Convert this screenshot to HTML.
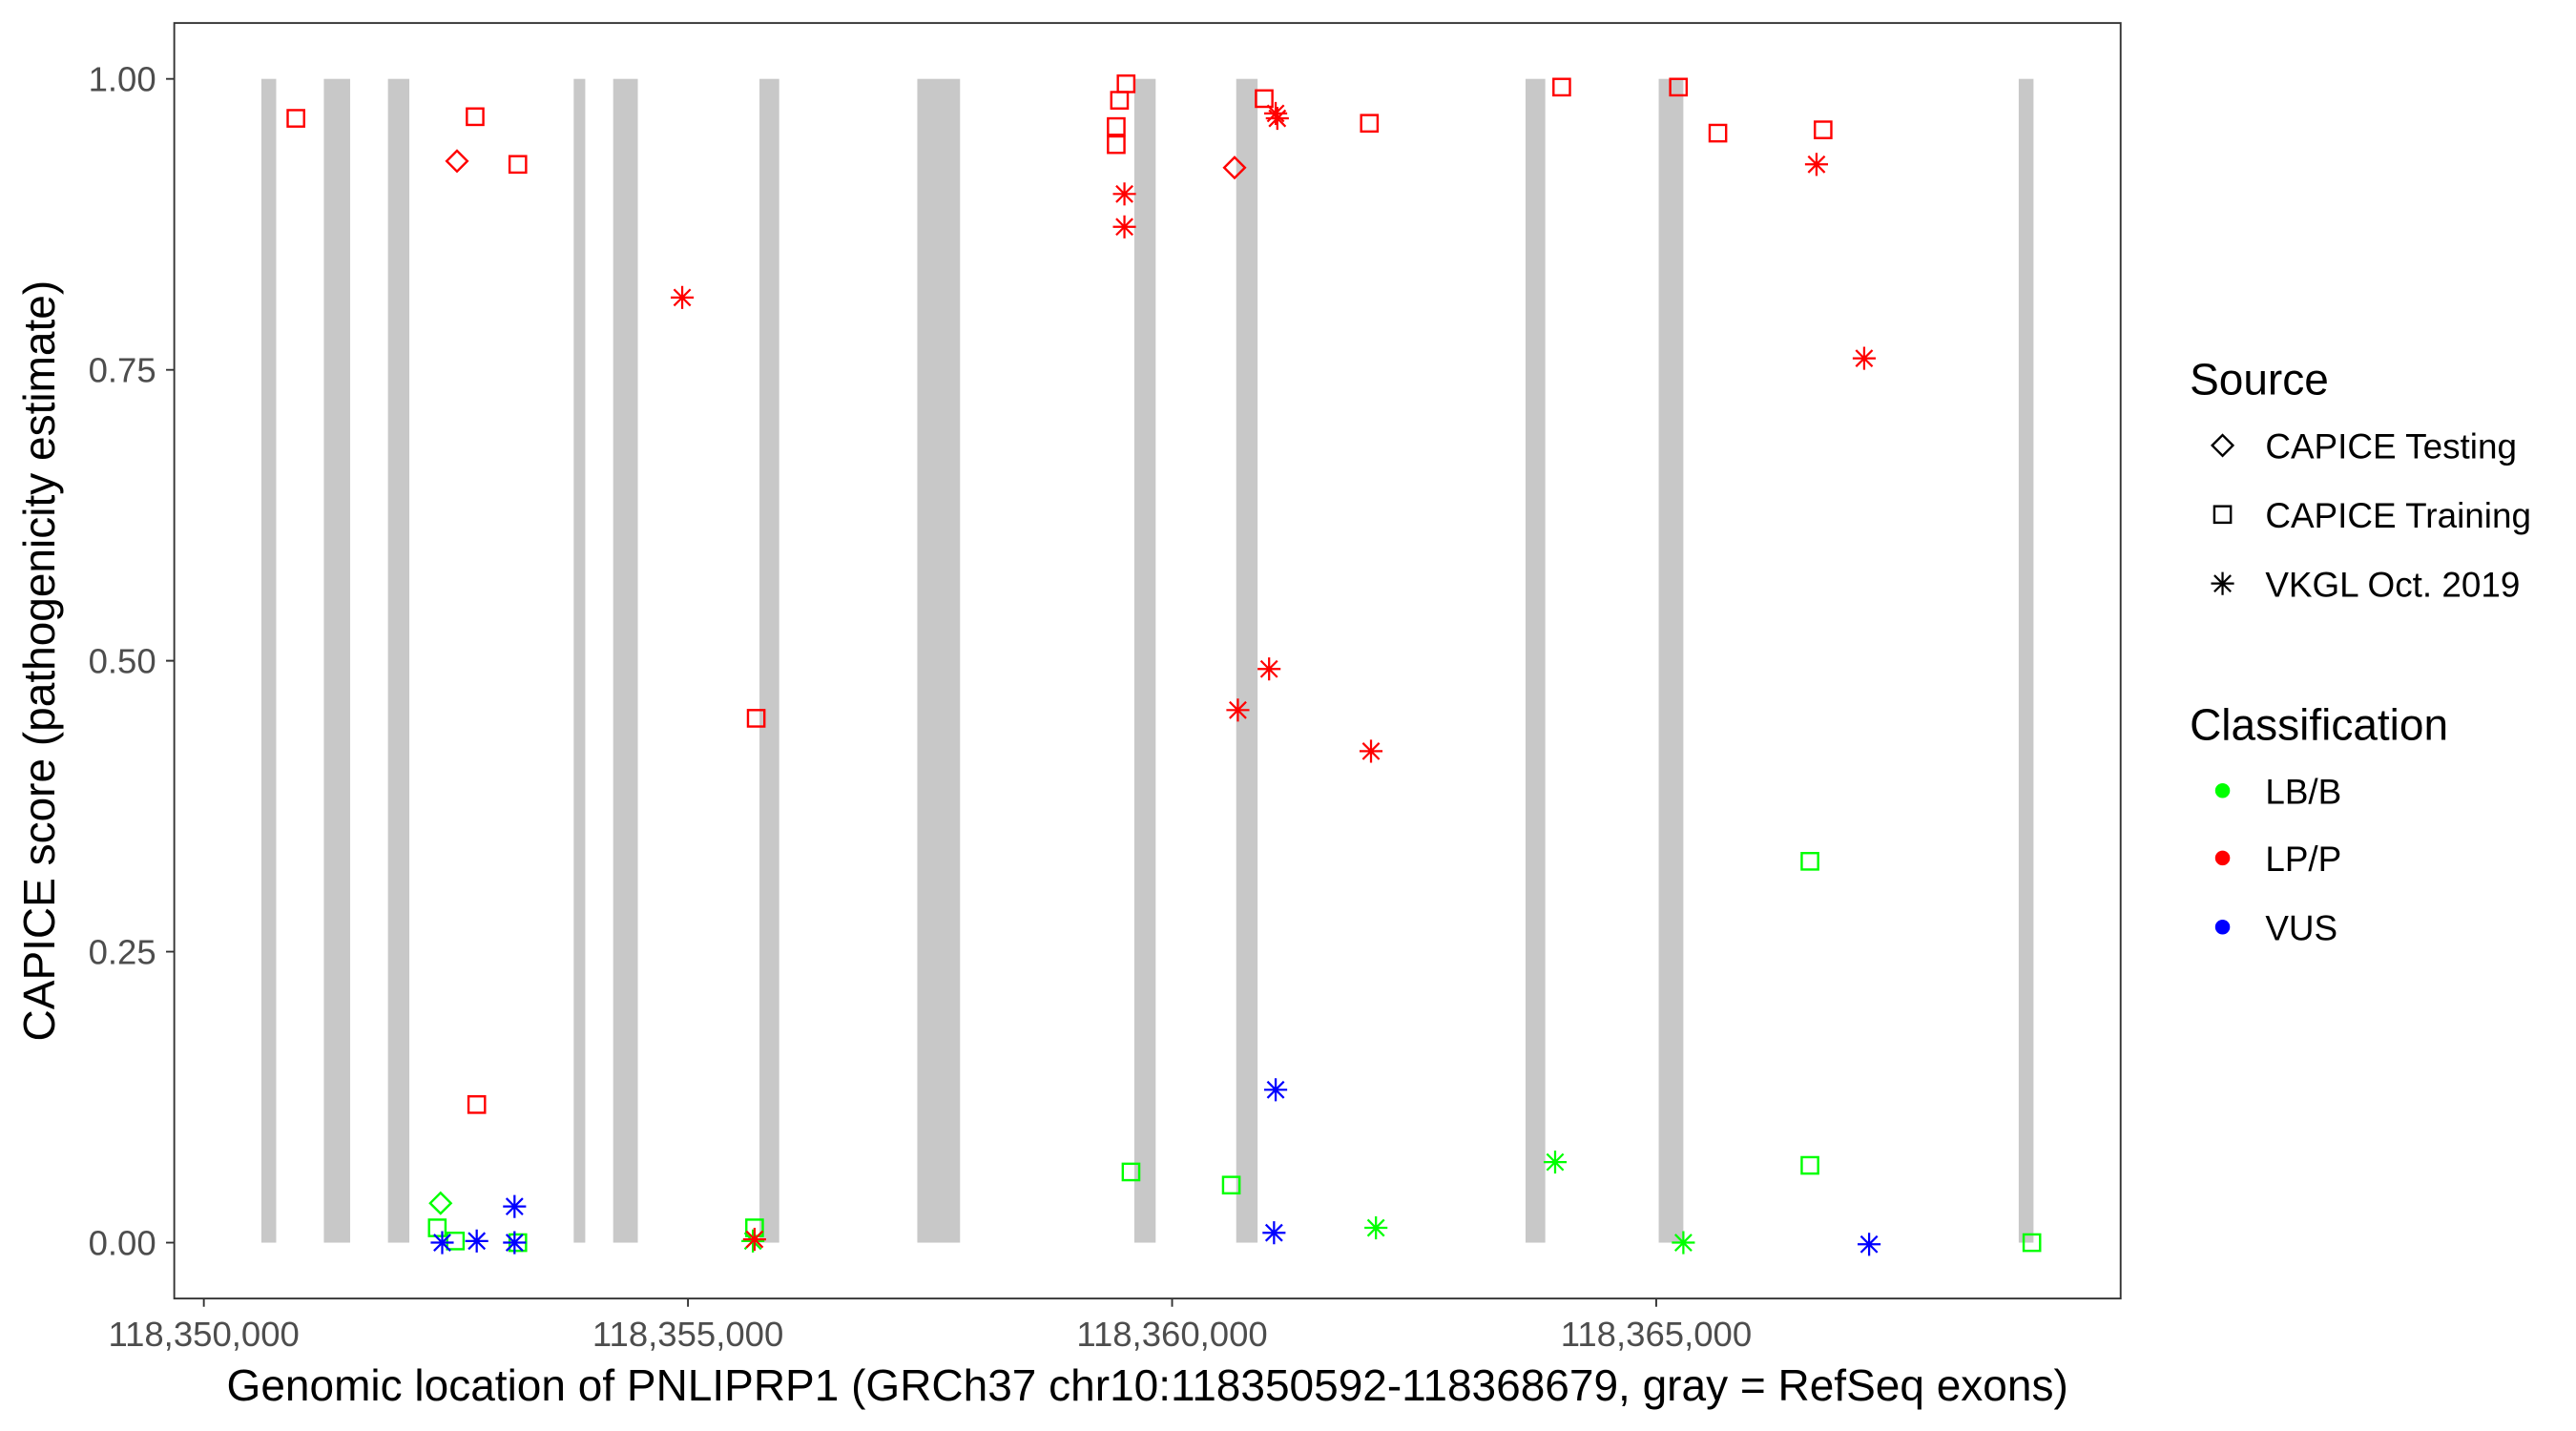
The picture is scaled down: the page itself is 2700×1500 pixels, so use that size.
<!DOCTYPE html>
<html><head><meta charset="utf-8"><style>html,body{margin:0;padding:0;background:#fff}svg{display:block}</style></head>
<body>
<svg width="2700" height="1500" viewBox="0 0 1567 870.6" preserveAspectRatio="none" xmlns="http://www.w3.org/2000/svg" font-family="Liberation Sans, Arial, sans-serif">
<defs>
<g id="sq"><rect x="-5" y="-5" width="10" height="10" fill="none" stroke-width="1.4"/></g>
<g id="di"><path d="M0,-6.3 L6.3,0 L0,6.3 L-6.3,0 Z" fill="none" stroke-width="1.4"/></g>
<g id="st" stroke-width="1.3"><path d="M-7,0H7M0,-7V7M-5,-5L5,5M-5,5L5,-5"/></g>
</defs>
<rect x="0" y="0" width="1567" height="870.6" fill="#fff"/>
<g fill="#c8c8c8">
<rect x="159" y="48" width="9" height="708"/>
<rect x="197" y="48" width="16" height="708"/>
<rect x="236" y="48" width="13" height="708"/>
<rect x="349" y="48" width="7" height="708"/>
<rect x="373" y="48" width="15" height="708"/>
<rect x="462" y="48" width="12" height="708"/>
<rect x="558" y="48" width="26" height="708"/>
<rect x="690" y="48" width="13" height="708"/>
<rect x="752" y="48" width="13" height="708"/>
<rect x="928" y="48" width="12" height="708"/>
<rect x="1009" y="48" width="15" height="708"/>
<rect x="1228" y="48" width="9" height="708"/>
</g>
<g stroke="#00ff00">
<use href="#sq" x="266" y="747"/><use href="#sq" x="277" y="755"/><use href="#sq" x="315" y="756"/>
<use href="#sq" x="459" y="747"/><use href="#sq" x="688" y="713"/><use href="#sq" x="749" y="721"/>
<use href="#sq" x="1101" y="524"/><use href="#sq" x="1101" y="709"/><use href="#sq" x="1236" y="756"/>
<use href="#di" x="268" y="732"/>
<use href="#st" x="946" y="707"/><use href="#st" x="837" y="747"/><use href="#st" x="1024" y="756"/><use href="#st" x="458" y="755"/>
</g>
<g stroke="#ff0000">
<use href="#sq" x="180" y="72"/><use href="#sq" x="289" y="71"/><use href="#sq" x="315" y="100"/>
<use href="#sq" x="290" y="672"/><use href="#sq" x="460" y="437"/><use href="#sq" x="685" y="51"/>
<use href="#sq" x="681" y="61"/><use href="#sq" x="679" y="77"/><use href="#sq" x="679" y="88"/>
<use href="#sq" x="769" y="60"/><use href="#sq" x="833" y="75"/><use href="#sq" x="950" y="53"/>
<use href="#sq" x="1021" y="53"/><use href="#sq" x="1045" y="81"/><use href="#sq" x="1109" y="79"/>
<use href="#di" x="278" y="98"/><use href="#di" x="751" y="102"/>
<use href="#st" x="415" y="181"/><use href="#st" x="684" y="118"/><use href="#st" x="684" y="138"/>
<use href="#st" x="776" y="69"/><use href="#st" x="777" y="72"/><use href="#st" x="772" y="407"/>
<use href="#st" x="753" y="432"/><use href="#st" x="834" y="457"/><use href="#st" x="1105" y="100"/>
<use href="#st" x="1134" y="218"/><use href="#st" x="459" y="754"/>
</g>
<g stroke="#0000ff">
<use href="#st" x="269" y="756"/><use href="#st" x="290" y="755"/><use href="#st" x="313" y="734"/>
<use href="#st" x="313" y="756"/><use href="#st" x="776" y="663"/><use href="#st" x="775" y="750"/>
<use href="#st" x="1137" y="757"/>
</g>
<rect x="106" y="14" width="1184" height="776" fill="none" stroke="#333" stroke-width="1.1"/>
<g stroke="#333" stroke-width="1.1">
<path d="M101,48H106M101,225H106M101,402H106M101,579H106M101,756H106"/>
<path d="M124,790V795M418.5,790V795M713,790V795M1007.5,790V795"/>
</g>
<g fill="#4d4d4d" font-size="21.2" text-anchor="end">
<text x="95" y="55.5">1.00</text><text x="95" y="232.5">0.75</text><text x="95" y="409.5">0.50</text>
<text x="95" y="586.5">0.25</text><text x="95" y="763.5">0.00</text>
</g>
<g fill="#4d4d4d" font-size="21.2" text-anchor="middle">
<text x="124" y="819">118,350,000</text><text x="418.5" y="819">118,355,000</text>
<text x="713" y="819">118,360,000</text><text x="1007.5" y="819">118,365,000</text>
</g>
<text x="698" y="852" font-size="26.7" text-anchor="middle">Genomic location of PNLIPRP1 (GRCh37 chr10:118350592-118368679, gray = RefSeq exons)</text>
<text transform="translate(33,402) rotate(-90)" font-size="26.7" text-anchor="middle">CAPICE score (pathogenicity estimate)</text>
<text x="1332" y="240" font-size="26.7">Source</text>
<g stroke="#000"><use href="#di" x="1352" y="271"/><use href="#sq" x="1352" y="313"/><use href="#st" x="1352" y="355"/></g>
<g font-size="21.4"><text x="1378" y="279">CAPICE Testing</text><text x="1378" y="321">CAPICE Training</text><text x="1378" y="363">VKGL Oct. 2019</text></g>
<text x="1332" y="450" font-size="26.7">Classification</text>
<circle cx="1352" cy="481" r="4.5" fill="#00ff00"/><circle cx="1352" cy="522" r="4.5" fill="#ff0000"/><circle cx="1352" cy="564" r="4.5" fill="#0000ff"/>
<g font-size="21.4"><text x="1378" y="489">LB/B</text><text x="1378" y="530">LP/P</text><text x="1378" y="572">VUS</text></g>
</svg>
</body></html>
